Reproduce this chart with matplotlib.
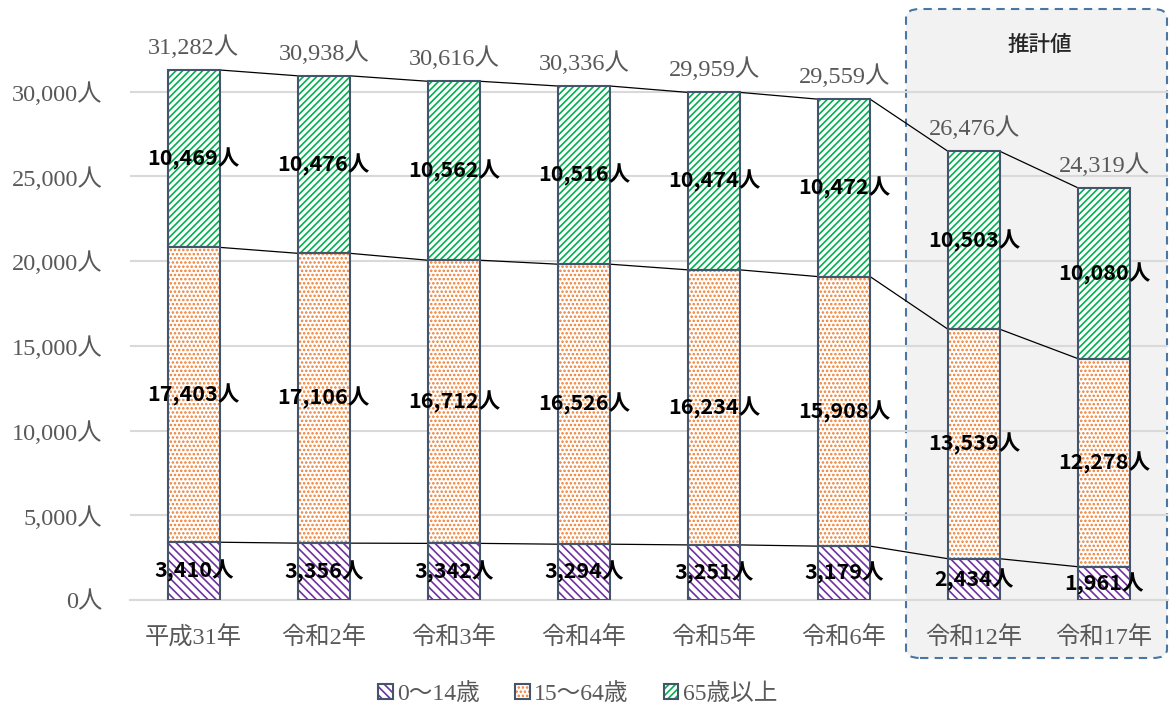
import matplotlib
matplotlib.use("Agg")
import matplotlib.pyplot as plt
from matplotlib.patches import FancyBboxPatch, Patch
from matplotlib.legend_handler import HandlerTuple
import numpy as np

# Population by age group (persons)
years = ["平成31年", "令和2年", "令和3年", "令和4年", "令和5年", "令和6年", "令和12年", "令和17年"]
age_0_14 = [3410, 3356, 3342, 3294, 3251, 3179, 2434, 1961]
age_15_64 = [17403, 17106, 16712, 16526, 16234, 15908, 13539, 12278]
age_65_plus = [10469, 10476, 10562, 10516, 10474, 10472, 10503, 10080]
totals = [31282, 30938, 30616, 30336, 29959, 29559, 26476, 24319]
series_names = ["0〜14歳", "15〜64歳", "65歳以上"]
y_ticks = [0, 5000, 10000, 15000, 20000, 25000, 30000]
estimate_label = "推計値"

SERIF = ["Liberation Serif", "Noto Sans CJK JP"]
SANS = ["Noto Sans CJK JP", "DejaVu Sans"]
plt.rcParams["font.family"] = SERIF
plt.rcParams["hatch.linewidth"] = 1.2

GRAY_TXT = "#595959"
EDGE = "#44546a"
colors = ["#7030a0", "#ed7d31", "#00b050"]
hatches = ["\\\\\\\\", "....", "/////"]

fig = plt.figure(figsize=(11.7, 7.08), dpi=100)
ax = fig.add_axes([130 / 1170, 108 / 708, (1168 - 130) / 1170, (701 - 108) / 708])
ax.patch.set_alpha(0)

# shaded "estimate" panel behind the axes
panel = FancyBboxPatch((906 / 1170, (708 - 658) / 708), (1167 - 906) / 1170, (658 - 9) / 708,
                       boxstyle="round,pad=0,rounding_size=0.012",
                       transform=fig.transFigure, facecolor="#f2f2f2",
                       edgecolor="#4a76a4", linewidth=1.5, linestyle=(0, (4, 3)), zorder=-5)
fig.patches.append(panel)
fig.text(1040 / 1170, 1 - 45 / 708, estimate_label, ha="center", va="center",
         fontsize=15.5, family=SANS, color="#262626", fontweight="medium")

x = np.arange(len(years))
width = 0.4
segments = [age_0_14, age_15_64, age_65_plus]
bottom = np.zeros(len(years))
tops = []
for vals, col, h in zip(segments, colors, hatches):
    vals = np.array(vals, dtype=float)
    ax.bar(x, vals, width, bottom=bottom, color="white", edgecolor=col, hatch=h,
           linewidth=0, zorder=3)
    ax.bar(x, vals, width, bottom=bottom, fill=False, edgecolor=EDGE, linewidth=1.5, zorder=4)
    for xi, b, v in zip(x, bottom, vals):
        ax.text(xi, b + v / 2, f"{int(v):,}人", ha="center", va="center", fontsize=15.5,
                family=SANS, fontweight="bold", color="black", zorder=6)
    bottom = bottom + vals
    tops.append(bottom.copy())

# connector lines between adjacent bars
for level in tops:
    for i in range(len(x) - 1):
        ax.plot([x[i] + width / 2, x[i + 1] - width / 2], [level[i], level[i + 1]],
                color="black", linewidth=0.9, zorder=2)

for xi, t in zip(x, totals):
    ax.text(xi, t + 1350, f"{t:,}人", ha="center", va="center", fontsize=17.5, color=GRAY_TXT)

ax.set_xlim(-0.49, 7.49)
ax.set_ylim(0, 35000)
ax.set_yticks(y_ticks)
ax.set_yticklabels([f"{v:,}人" for v in y_ticks])
ax.set_xticks(x)
ax.set_xticklabels(years)
ax.tick_params(axis="y", length=0, pad=20, labelsize=17.5, labelcolor=GRAY_TXT)
ax.tick_params(axis="x", length=0, pad=19, labelsize=17.5, labelcolor=GRAY_TXT)
ax.grid(axis="y", color="#d9d9d9", linewidth=1.5, zorder=0)
ax.set_axisbelow(True)
for s in ["top", "right", "left"]:
    ax.spines[s].set_visible(False)
ax.spines["bottom"].set_color("#d9d9d9")
ax.spines["bottom"].set_linewidth(1.5)

handles = [(Patch(facecolor="white", edgecolor=c, hatch=h, linewidth=0),
            Patch(fill=False, edgecolor=EDGE, linewidth=1.5))
           for c, h in zip(colors, hatches)]
leg = fig.legend(handles, series_names, loc="center", bbox_to_anchor=(578 / 1170, 1 - 694 / 708),
                 ncol=3, frameon=False, fontsize=17, handlelength=0.6, handleheight=0.6,
                 handletextpad=0.2, columnspacing=1.5,
                 handler_map={tuple: HandlerTuple(ndivide=1, pad=0)})
for t in leg.get_texts():
    t.set_color(GRAY_TXT)

fig.savefig("out.png", dpi=100)
